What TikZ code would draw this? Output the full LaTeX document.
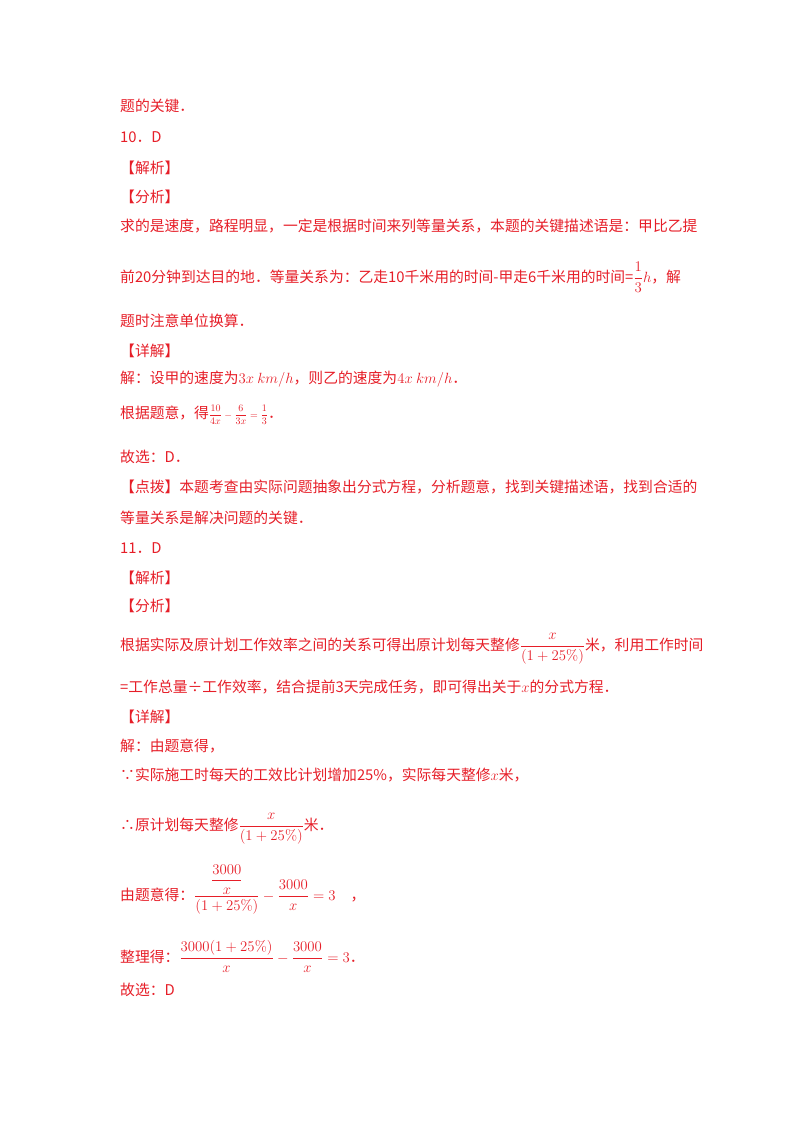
\RequirePackage{fix-cm}
\documentclass[tikz,border=0pt]{standalone}
\usepackage{amsmath,amssymb}
\usepackage{fontspec}
\newfontfamily\cjk{Noto Sans CJK SC}
\definecolor{txtred}{RGB}{230,30,40}
\begin{document}
\begin{tikzpicture}[x=1pt,y=-1pt,
  ln/.style={anchor=base west,inner sep=0pt,text=txtred,font=\cjk\fontsize{14.8}{18}\selectfont}]
\useasboundingbox (0,0) rectangle (800,1132);
\node[ln] (l1) at (120,111) {题的关键．};
\node[ln] (l2) at (120,142) {10．D};
\node[ln] (l3) at (120,173) {【解析】};
\node[ln] (l4) at (120,202) {【分析】};
\node[ln] (l5) at (120,231) {求的是速度，路程明显，一定是根据时间来列等量关系，本题的关键描述语是：甲比乙提};
\node[ln] (l6) at (120,282) {前20分钟到达目的地．等量关系为：乙走10千米用的时间-甲走6千米用的时间=$\dfrac{1}{3}h$，解};
\node[ln] (l7) at (120,326) {题时注意单位换算．};
\node[ln] (l8) at (120,356) {【详解】};
\node[ln] (l9) at (120,383) {解：设甲的速度为$3x\ km/h$，则乙的速度为$4x\ km/h$．};
\node[ln] (l10) at (120,418) {根据题意，得{\fontsize{10}{12}\selectfont$\dfrac{10}{4x}-\dfrac{6}{3x}=\dfrac{1}{3}$}．};
\node[ln] (l11) at (120,462) {故选：D．};
\node[ln] (l12) at (120,492) {【点拨】本题考查由实际问题抽象出分式方程，分析题意，找到关键描述语，找到合适的};
\node[ln] (l13) at (120,523) {等量关系是解决问题的关键．};
\node[ln] (l14) at (120,553) {11．D};
\node[ln] (l15) at (120,583) {【解析】};
\node[ln] (l16) at (120,611) {【分析】};
\node[ln] (l17) at (120,650) {根据实际及原计划工作效率之间的关系可得出原计划每天整修$\dfrac{x}{(1+25\%)}$米，利用工作时间};
\node[ln] (l18) at (120,692) {=工作总量÷工作效率，结合提前3天完成任务，即可得出关于$x$的分式方程．};
\node[ln] (l19) at (120,722) {【详解】};
\node[ln] (l20) at (120,751) {解：由题意得，};
\node[ln] (l21) at (120,780) {∵实际施工时每天的工效比计划增加25\%，实际每天整修$x$米，};
\node[ln] (l22) at (120,830) {∴原计划每天整修$\dfrac{x}{(1+25\%)}$米．};
\node[ln] (l23) at (120,900) {由题意得：$\dfrac{\;\dfrac{3000}{x}\;}{(1+25\%)}-\dfrac{3000}{x}=3$\quad，};
\node[ln] (l24) at (120,962) {整理得：$\dfrac{3000(1+25\%)}{x}-\dfrac{3000}{x}=3$．};
\node[ln] (l25) at (120,995) {故选：D};
\end{tikzpicture}
\end{document}
